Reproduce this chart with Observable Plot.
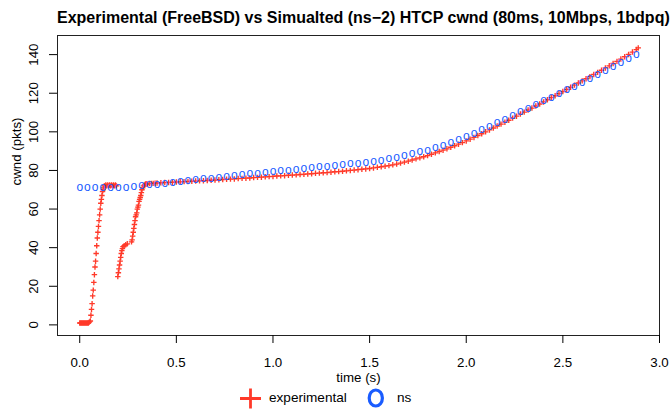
<!DOCTYPE html>
<html>
<head>
<meta charset="utf-8">
<script src="https://cdn.jsdelivr.net/npm/d3@7"></script>
<script src="https://cdn.jsdelivr.net/npm/@observablehq/plot@0.6"></script>
<style>
  body { margin: 0; background: #fff; font-family: "Liberation Sans", Arial, sans-serif; color: #000; }
  #wrap { width: 672px; height: 409px; position: relative; overflow: hidden; background: #fff; }
  #title { height: 25px; box-sizing: border-box; padding-top: 9.5px; padding-left: 57px; padding-right: 13px;
           text-align: center; font-weight: bold; font-size: 16px; line-height: 16px; white-space: nowrap; }
  #chart svg { display: block; }
  .leg { position: absolute; top: 388px; line-height: 20px; font-size: 13.6px; white-space: nowrap; }
</style>
</head>
<body>
<div id="wrap">
  <div id="title">Experimental (FreeBSD) vs Simualted (ns−2) HTCP cwnd (80ms, 10Mbps, 1bdpq)</div>
  <div id="chart"></div>
  <svg class="leg" style="left:240px;top:388px" width="21" height="21"><path d="M0,10.5H21M10.5,0.5V20.5" stroke="#ff3a2a" stroke-width="2.8" fill="none"/></svg>
  <span class="leg" style="left:269px">experimental</span>
  <svg class="leg" style="left:365px;top:387px" width="22" height="22"><ellipse cx="10.8" cy="11" rx="6.6" ry="8" fill="none" stroke="#1a5cff" stroke-width="3.2"/></svg>
  <span class="leg" style="left:397px">ns</span>
</div>
<script>
// ---- data ----
const expTime = [
  0.000,0.005,0.010,0.015,0.020,0.025,0.030,0.035,0.040,0.045,0.050,
  0.055,0.058,0.061,0.064,0.067,0.070,0.073,0.076,0.079,0.082,0.085,0.088,0.091,0.094,0.097,0.100,0.103,0.106,0.109,0.112,0.115,0.118,0.121,0.124,0.127,
  0.130,0.135,0.140,0.145,0.150,0.155,0.160,0.165,0.170,0.175,0.180,0.185,0.190,
  0.197,0.200,0.203,0.206,0.209,0.212,0.215,0.218,0.221,0.224,0.230,0.238,0.246,
  0.268,0.271,0.274,0.277,0.280,0.283,0.286,0.289,0.292,0.295,0.298,0.301,0.304,0.307,0.310,0.313,0.316,0.319,0.322,0.326,0.330,
  0.335,0.340,0.345,0.350,0.360,0.370,0.380,0.390,0.400,
  0.42,0.44,0.46,0.48,0.50,0.52,0.54,0.56,0.58,0.60,0.62,0.64,0.66,0.68,0.70,0.72,0.74,0.76,0.78,0.80,
  0.82,0.84,0.86,0.88,0.90,0.92,0.94,0.96,0.98,1.00,1.02,1.04,1.06,1.08,1.10,1.12,1.14,1.16,1.18,1.20,
  1.22,1.24,1.26,1.28,1.30,1.32,1.34,1.36,1.38,1.40,1.42,1.44,1.46,1.48,1.50,1.52,1.54,1.56,1.58,1.60,
  1.62,1.64,1.66,1.68,1.70,1.72,1.74,1.76,1.78,1.80,1.82,1.84,1.86,1.88,1.90,1.92,1.94,1.96,1.98,2.00,
  2.02,2.04,2.06,2.08,2.10,2.12,2.14,2.16,2.18,2.20,2.22,2.24,2.26,2.28,2.30,2.32,2.34,2.36,2.38,2.40,
  2.42,2.44,2.46,2.48,2.50,2.52,2.54,2.56,2.58,2.60,2.62,2.64,2.66,2.68,2.70,2.72,2.74,2.76,2.78,2.80,
  2.82,2.84,2.86,2.88,2.89
];
const expCwnd = [
  1,1,1,1,1,1,1,1,1,1,1.5,
  2,5,8,11,15,18,22,26,30,33,37,41,45,48,51,54,57,60,63,65,67,69,70,71,72,
  72,72.5,72,72.5,72,72.5,72,72.5,72,72.5,72,72.5,72,
  25,27,29,31,33,35,37,38.5,39.5,40.5,41,41.5,42,
  43,44,46,48,50,52,54,56,57,58,60,61,62,64,65,66,67,68.5,70,71,72,
  72.5,73,73,73,73.2,73.3,73.3,73.4,73.5,
  73.6,73.7,73.8,73.9,74.0,74.1,74.2,74.3,74.4,74.5,74.6,74.7,74.8,74.9,75.0,75.2,75.3,75.4,75.5,75.6,
  75.8,75.9,76.0,76.1,76.3,76.4,76.5,76.7,76.8,76.9,77.1,77.2,77.3,77.5,77.6,77.7,77.9,78.0,78.2,78.3,
  78.5,78.6,78.8,78.9,79.1,79.3,79.4,79.6,79.8,80.0,80.2,80.4,80.6,80.8,81.0,81.3,81.6,81.9,82.2,82.5,
  82.9,83.3,83.8,84.3,84.8,85.4,86.0,86.5,87.1,87.7,88.4,89.1,89.8,90.5,91.2,92.0,92.8,93.6,94.4,95.3,
  96.2,97.1,98.1,99.0,100.0,101.0,102.0,103.0,104.0,105.0,106.0,107.1,108.1,109.2,110.2,111.3,112.3,113.4,114.4,115.5,
  116.6,117.7,118.7,119.8,120.9,122.0,123.1,124.2,125.3,126.4,127.5,128.6,129.7,130.8,131.9,133.1,134.2,135.4,136.5,137.7,
  138.9,140.1,141.3,142.6,143.5
];
const nsTime = [
  0.00,0.04,0.08,0.12,0.16,0.20,0.24,0.28,0.32,0.36,0.40,0.44,0.48,0.52,0.56,0.60,0.64,0.68,0.72,0.76,
  0.80,0.84,0.88,0.92,0.96,1.00,1.04,1.08,1.12,1.16,1.20,1.24,1.28,1.32,1.36,1.40,1.44,1.48,1.52,1.56,
  1.60,1.64,1.68,1.72,1.76,1.80,1.84,1.88,1.92,1.96,2.00,2.04,2.08,2.12,2.16,2.20,2.24,2.28,2.32,2.36,
  2.40,2.44,2.48,2.52,2.56,2.60,2.64,2.68,2.72,2.76,2.80,2.84,2.88
];
const nsCwnd = [
  70.8,70.8,70.8,70.8,70.9,71.0,71.2,71.5,71.9,72.3,72.7,73.2,73.6,74.1,74.5,75.0,75.4,75.8,76.3,76.7,
  77.1,77.5,78.0,78.4,78.8,79.2,79.6,80.0,80.4,80.8,81.2,81.6,82.0,82.4,82.8,83.2,83.6,84.0,84.5,85.1,
  85.8,86.6,87.5,88.4,89.4,90.4,91.5,92.8,94.2,95.8,97.4,99.1,100.8,102.6,104.4,106.3,108.2,110.1,112.0,113.9,
  115.8,117.7,119.6,121.6,123.5,125.5,127.5,129.5,131.5,133.6,135.7,137.8,140.0
];
const xTicks = [0, 0.5, 1.0, 1.5, 2.0, 2.5, 3.0];
const yTicks = [0, 20, 40, 60, 80, 100, 120, 140];
const xLabel = "time (s)";
const yLabel = "cwnd (pkts)";

const red = "#ff3a2a";
const blue = "#1a5cff";

const exp = expTime.map((t, i) => ({t, c: expCwnd[i]}));
const ns = nsTime.map((t, i) => ({t, c: nsCwnd[i]}));

const chart = Plot.plot({
  width: 672,
  height: 365,
  marginLeft: 57,
  marginRight: 13,
  marginTop: 10,
  marginBottom: 55,
  style: {fontFamily: "'Liberation Sans', Arial, sans-serif", fontSize: "13.3px", color: "#000", background: "#fff", overflow: "visible"},
  x: {domain: [-0.115, 3.0]},
  y: {domain: [-5.5, 149.9]},
  marks: [
    Plot.frame({stroke: "#222", strokeWidth: 1}),
    Plot.axisX({ticks: xTicks, tickFormat: d3.format(".1f"), tickSize: 8, tickPadding: 14, label: null}),
    Plot.axisY({ticks: yTicks, tickSize: 8, tickRotate: -90, tickPadding: 12, label: null}),
    Plot.text([xLabel], {frameAnchor: "bottom", dy: 46, text: d => d}),
    Plot.text([yLabel], {frameAnchor: "left", dx: -41, rotate: -90, text: d => d}),
    Plot.dot(exp, {x: "t", y: "c", symbol: "plus", r: 1.9, stroke: red, strokeWidth: 1.35}),
    Plot.text(ns, {x: "t", y: "c", text: () => "o", fill: blue, fontSize: 12, dy: -0.7})
  ]
});
document.getElementById("chart").appendChild(chart);
</script>
</body>
</html>
